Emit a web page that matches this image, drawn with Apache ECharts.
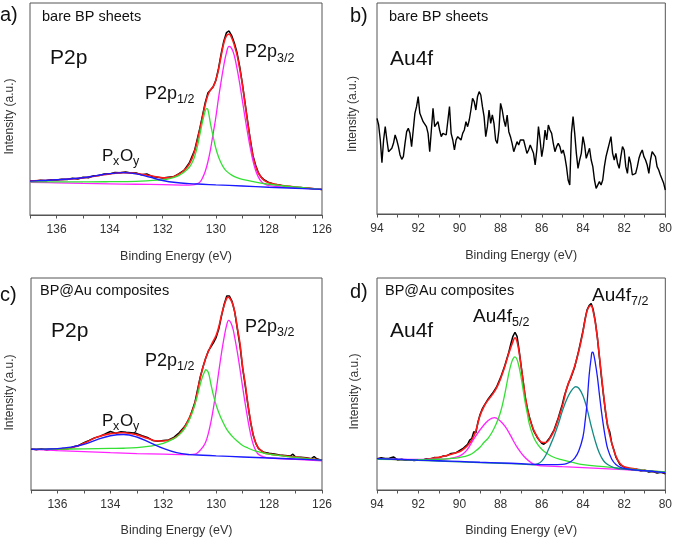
<!DOCTYPE html>
<html><head><meta charset="utf-8">
<script src="https://cdn.jsdelivr.net/npm/echarts@6.0.0/dist/echarts.min.js"></script>
<style>html,body{margin:0;padding:0;background:#fff}#c{width:675px;height:538px}</style>
</head><body><div id="c"></div>
<script>
// ---------- tick labels ----------
const pTickLabels = [136,134,132,130,128,126];
const pTicks = [137,136,135,134,133,132,131,130,129,128,127,126];
const auTickLabels = [94,92,90,88,86,84,82,80];
const auTicks = [94,93,92,91,90,89,88,87,86,85,84,83,82,81,80];

// ---------- panel a : bare BP, P2p ----------
const aBlack = [[137,16.1],[136.8,16.0],[136.6,16.4],[136.4,16.2],[136.2,16.6],[136,16.5],[135.8,16.9],[135.6,16.7],[135.4,17.3],[135.2,17.0],[135,17.8],[134.8,17.6],[134.6,18.5],[134.4,18.6],[134.2,19.3],[134,19.4],[133.8,20.0],[133.6,19.9],[133.4,20.3],[133.2,19.8],[133,19.8],[132.8,19.0],[132.6,19.4],[132.4,18.2],[132.2,17.8],[132,17.4],[131.8,17.8],[131.6,18.0],[131.4,19.4],[131.2,21.0],[131,24.5],[130.8,30.5],[130.6,41],[130.5,47],[130.4,53],[130.3,57.5],[130.2,59],[130.1,60.5],[130,63.5],[129.9,69],[129.8,76],[129.7,82],[129.6,86],[129.5,86.8],[129.4,84.5],[129.3,81],[129.2,76.5],[129.1,70],[129,62],[128.9,53],[128.8,44],[128.7,35.5],[128.6,28],[128.5,23.5],[128.4,20],[128.3,18],[128.2,16.8],[128,15.3],[127.8,14.5],[127.6,14.1],[127.4,13.6],[127.2,13.5],[127,13.1],[126.8,13.0],[126.6,12.7],[126.4,12.5],[126.2,12.3],[126,12.0]];
const aEnvelope = [[137,16.0],[136.5,16.3],[136,16.6],[135.5,17.0],[135,17.5],[134.5,18.4],[134,19.4],[133.5,20.0],[133,19.6],[132.5,18.6],[132,17.6],[131.8,17.5],[131.6,18.0],[131.4,19.2],[131.2,21.0],[131,24],[130.8,30],[130.6,40.5],[130.4,52],[130.3,56.5],[130.2,59],[130.1,60.5],[130,63.5],[129.9,68.5],[129.8,75],[129.7,81],[129.6,84.5],[129.5,85.3],[129.4,83.5],[129.3,80],[129.2,75.5],[129.1,69],[129,61.5],[128.9,52.5],[128.8,43.5],[128.7,35],[128.6,27.5],[128.5,23],[128.4,19.8],[128.2,16.6],[128,15.2],[127.5,13.9],[127,13.2],[126.5,12.6],[126,12.1]];
const aP32 = [[137,15.4],[136,15.2],[135,14.9],[134,14.7],[133,14.5],[132,14.3],[131,14.1],[130.8,14.3],[130.7,14.8],[130.6,15.5],[130.5,17.5],[130.4,20.5],[130.3,25],[130.2,31],[130.1,38.5],[130,46],[129.9,55],[129.8,63],[129.7,70.5],[129.6,76.5],[129.5,79.5],[129.4,78.5],[129.3,75],[129.2,69],[129.1,62],[129,54],[128.9,46],[128.8,38.5],[128.7,31.5],[128.6,25.5],[128.5,21],[128.4,18],[128.3,16],[128.2,14.9],[128,13.9],[127.5,13.3],[127,12.8],[126.5,12.4],[126,12.1]];
const aP12 = [[137,15.6],[136,15.6],[135,15.6],[134,15.7],[133,15.9],[132.5,16.2],[132,16.6],[131.8,17.0],[131.6,17.6],[131.4,18.6],[131.2,20.2],[131,22.5],[130.9,24.5],[130.8,27.5],[130.7,32],[130.6,38],[130.5,44],[130.4,49],[130.35,50.2],[130.3,49.8],[130.2,43],[130.1,37],[130,31.5],[129.9,27.5],[129.8,24.5],[129.7,22.2],[129.6,20.7],[129.4,18.8],[129.2,17.6],[129,16.8],[128.5,15.5],[128,14.5],[127.5,13.8],[127,13.2],[126.5,12.6],[126,12.1]];
const aPxOy = [[137,16.0],[136.5,16.3],[136,16.6],[135.5,17.0],[135,17.6],[134.5,18.6],[134,19.5],[133.5,20.0],[133,19.4],[132.5,17.9],[132,16.3],[131.5,15.3],[131,14.8],[130.5,14.5],[130,14.2],[129,13.7],[128,13.1],[127,12.6],[126,12.1]];

// ---------- panel b : bare BP, Au4f (raw counts) ----------
const bEnergy = [94,93.92,93.84,93.76,93.68,93.6,93.52,93.44,93.36,93.28,
93.2,93.12,93.04,92.96,92.88,92.8,92.72,92.64,92.56,92.48,
92.4,92.32,92.24,92.16,92.08,92,91.92,91.84,91.76,91.68,
91.6,91.52,91.44,91.36,91.28,91.2,91.12,91.04,90.96,90.88,
90.8,90.72,90.64,90.56,90.48,90.4,90.32,90.24,90.16,90.08,
90,89.92,89.84,89.76,89.68,89.6,89.52,89.44,89.36,89.28,
89.2,89.12,89.04,88.96,88.88,88.8,88.72,88.64,88.56,88.48,
88.4,88.32,88.24,88.16,88.08,88,87.92,87.84,87.76,87.68,
87.6,87.52,87.44,87.36,87.28,87.2,87.12,87.04,86.96,86.88,
86.8,86.72,86.64,86.56,86.48,86.4,86.32,86.24,86.16,86.08,
86,85.92,85.84,85.76,85.68,85.6,85.52,85.44,85.36,85.28,
85.2,85.12,85.04,84.96,84.88,84.8,84.72,84.64,84.56,84.48,
84.4,84.32,84.24,84.16,84.08,84,83.92,83.84,83.76,83.68,
83.6,83.52,83.44,83.36,83.28,83.2,83.12,83.04,82.96,82.88,
82.8,82.72,82.64,82.56,82.48,82.4,82.32,82.24,82.16,82.08,
82,81.92,81.84,81.76,81.68,81.6,81.52,81.44,81.36,81.28,
81.2,81.12,81.04,80.96,80.88,80.8,80.72,80.64,80.56,80.48,
80.4,80.32,80.24,80.16,80.08,80];
const bIntensity = [287,267,222,154,222,262,222,187,192,197,
212,237,222,202,177,164,172,212,247,257,
242,202,252,302,322,352,302,297,277,282,
262,242,187,252,317,262,257,277,252,232,
242,247,237,232,322,242,222,192,222,232,
232,222,242,252,277,262,282,312,347,337,
312,352,367,357,322,292,232,262,312,272,
297,272,222,212,252,332,312,282,262,297,
247,232,212,187,202,217,207,222,217,222,
202,182,192,207,202,182,147,192,262,222,
172,202,252,222,267,252,242,212,187,202,
212,202,182,192,172,142,102,87,242,292,
242,182,137,162,182,232,207,167,182,197,
162,142,102,77,82,97,87,102,142,172,
192,212,232,182,162,182,152,137,172,202,
192,142,122,172,152,117,112,122,142,167,
182,192,172,162,147,122,162,187,192,172,
142,132,117,122,92,72];

// ---------- panel c : BP@Au, P2p ----------
const cBlack = [[137,19.4],[136.8,19.0],[136.6,19.5],[136.4,18.9],[136.2,19.3],[136,19.1],[135.8,19.6],[135.6,19.4],[135.4,20.4],[135.2,21.0],[135,22.3],[134.8,23.4],[134.6,24.6],[134.4,25.3],[134.2,26.4],[134,27.6],[133.8,26.8],[133.6,27.5],[133.4,27.2],[133.2,27.0],[133,26.6],[132.8,25.6],[132.6,24.8],[132.4,23.4],[132.2,23.0],[132,23.3],[131.8,23.6],[131.6,24.8],[131.4,27.0],[131.2,29.8],[131,34],[130.8,41.5],[130.6,53.5],[130.5,58],[130.4,62],[130.3,65.5],[130.2,67.5],[130.1,69.5],[130,72],[129.9,76],[129.8,82],[129.7,87.5],[129.6,91.5],[129.55,92],[129.5,91.5],[129.4,89],[129.3,84],[129.2,76],[129.1,68],[129,57.5],[128.9,49],[128.8,40],[128.7,32],[128.6,25.8],[128.5,22],[128.4,19.5],[128.2,17.8],[128,17.3],[127.8,17.0],[127.6,16.5],[127.4,16.3],[127.2,16.0],[127.1,16.9],[127,15.6],[126.8,15.4],[126.6,15.2],[126.4,14.8],[126.3,15.8],[126.2,14.7],[126,13.9]];
const cEnvelope = [[137,19.2],[136.5,19.2],[136,19.3],[135.5,19.8],[135,22.0],[134.5,25.0],[134,26.6],[133.5,27.0],[133,26.0],[132.6,24.4],[132.2,23.1],[131.9,23.2],[131.6,24.4],[131.4,26.3],[131.2,29.5],[131,34.5],[130.8,41],[130.6,53],[130.4,62],[130.2,68],[130,73],[129.9,77],[129.8,82.5],[129.7,87],[129.6,90.5],[129.55,91],[129.4,88.5],[129.3,84],[129.2,76.5],[129.1,69],[129,58],[128.9,50],[128.8,40.5],[128.7,32.5],[128.6,26],[128.5,22],[128.4,19.8],[128.2,17.6],[128,17.0],[127.5,16.2],[127,15.5],[126.5,14.8],[126,14.1]];
const cP32 = [[137,19.2],[136,18.6],[135,18.1],[134,17.6],[133,17.2],[132,16.9],[131,16.7],[130.8,16.9],[130.7,17.6],[130.6,18.8],[130.5,20.3],[130.4,22.5],[130.3,26.5],[130.2,32],[130.1,39],[130,47],[129.9,56],[129.8,64.5],[129.7,72],[129.6,78],[129.53,80],[129.4,77.5],[129.3,72],[129.2,65],[129.1,57],[129,48.5],[128.9,40.5],[128.8,33],[128.7,26.5],[128.6,21.5],[128.5,18.5],[128.4,16.8],[128.2,15.6],[128,15.1],[127,14.4],[126,13.8]];
const cP12 = [[137,19.2],[136,19.3],[135,19.4],[134,19.6],[133.5,19.7],[133,20.0],[132.5,20.7],[132,22.0],[131.6,24.2],[131.4,26.0],[131.2,28.8],[131,33.5],[130.9,36.5],[130.8,40.5],[130.7,45],[130.6,50],[130.5,54],[130.4,56.8],[130.38,57],[130.3,55.5],[130.2,50],[130.1,44.5],[130,40],[129.9,36.5],[129.8,33.5],[129.6,28.6],[129.4,25.4],[129.2,23],[129,21],[128.8,19.8],[128.5,18.3],[128,16.9],[127.5,16.1],[127,15.4],[126.5,14.7],[126,14.1]];
const cPxOy = [[137,19.2],[136.5,19.3],[136,19.5],[135.5,20.2],[135,21.5],[134.5,23.8],[134,25.6],[133.5,26.2],[133,25.0],[132.5,22.3],[132,19.6],[131.5,17.6],[131,16.7],[130.5,16.4],[130,16.1],[129,15.6],[128,15.1],[127,14.6],[126,14.1]];

// ---------- panel d : BP@Au, Au4f ----------
const dBlack = [[94,14.6],[93.8,15.2],[93.6,14.9],[93.4,15.0],[93.2,15.6],[93,14.2],[92.8,14.5],[92.6,14.0],[92.4,14.3],[92.2,13.9],[92,14.2],[91.8,14.1],[91.6,14.7],[91.4,14.6],[91.2,15.3],[91,15.2],[90.8,16.0],[90.6,16.2],[90.4,17.2],[90.2,17.4],[90,18.6],[89.8,19.8],[89.6,21.5],[89.5,23.5],[89.4,24.2],[89.3,27.5],[89.2,27],[89.1,32],[89,35.5],[88.9,38],[88.8,39.8],[88.6,43],[88.4,45.5],[88.2,48.5],[88,53],[87.8,58.5],[87.6,65],[87.5,69],[87.4,72.5],[87.3,74.4],[87.2,72.5],[87.1,66],[87,58.5],[86.9,51],[86.8,43.5],[86.7,38.5],[86.6,34.5],[86.4,28],[86.2,24.5],[86,22],[85.9,21.6],[85.8,22.3],[85.6,24.8],[85.4,28.4],[85.2,34],[85,40.5],[84.9,44.5],[84.8,47.5],[84.7,50.5],[84.6,52.5],[84.4,58],[84.2,66],[84,75],[83.9,80.5],[83.8,85],[83.7,87],[83.6,88],[83.55,87.9],[83.5,85],[83.4,79.5],[83.3,72],[83.2,62.5],[83.1,53],[83,44.5],[82.9,36.5],[82.8,30],[82.7,27.5],[82.6,22],[82.5,19],[82.4,15.5],[82.2,12],[82,10.8],[81.8,10.2],[81.6,9.5],[81.4,9.8],[81.2,9.0],[81,9.3],[80.8,8.5],[80.6,8.7],[80.4,8.0],[80.2,8.4],[80,7.6]];
const dEnvelope = [[94,14.8],[93,14.4],[92,14.1],[91.5,14.6],[91,15.4],[90.5,16.6],[90,18.0],[89.8,19.3],[89.6,21],[89.4,23.5],[89.2,28],[89,35],[88.8,39.5],[88.6,42.5],[88.4,45],[88.2,48],[88,52.5],[87.8,58],[87.6,64.5],[87.4,70],[87.3,71.8],[87.2,70],[87.1,65],[87,58],[86.9,51],[86.8,44],[86.6,34],[86.4,28.5],[86.2,24.8],[86,22.5],[85.8,22.4],[85.6,24.5],[85.4,28],[85.2,33.5],[85,39.5],[84.8,47.5],[84.6,53],[84.4,58.5],[84.2,65.5],[84,74.5],[83.9,80],[83.8,84.5],[83.7,86.5],[83.6,87],[83.5,84],[83.4,79],[83.3,72],[83.2,63],[83.1,54],[83,45],[82.9,37],[82.8,30.5],[82.6,22],[82.4,16],[82.2,12.5],[82,11],[81.5,10],[81,9.2],[80.5,8.7],[80,8.2]];
const dF52a = [[94,14.4],[92,14.4],[91,14.5],[90.5,14.8],[90.2,15.4],[90,16.0],[89.8,17.2],[89.6,19.3],[89.4,22.5],[89.2,25.5],[89,28.3],[88.8,30.8],[88.6,32.8],[88.4,33.9],[88.3,34.1],[88.2,33.9],[88,32.4],[87.8,30.2],[87.6,27.2],[87.4,23.6],[87.2,20.2],[87,17.5],[86.8,15.2],[86.6,13.5],[86.4,12.2],[86.2,11.6],[86,11.4],[85,11.0],[84,10.6],[83,10.1],[82,9.6],[81,9.0],[80,8.5]];
const dF52b = [[94,14.4],[92,14.3],[91,14.5],[90.5,14.8],[90,15.3],[89.5,16.6],[89.2,18.5],[89,20.2],[88.8,22.5],[88.6,24.5],[88.4,27.5],[88.2,31.5],[88,36.8],[87.8,45],[87.7,50],[87.6,55],[87.5,59],[87.4,61.8],[87.3,62.8],[87.2,61.5],[87.1,58],[87,53],[86.9,47],[86.8,41],[86.7,36],[86.6,31],[86.4,25],[86.2,21.5],[86,19.2],[85.8,17.6],[85.5,15.8],[85,14.2],[84.5,13],[84,12],[83,11],[82,10.1],[81,9.3],[80,8.5]];
const dF72a = [[94,14.8],[92,14.0],[90,13.3],[88,12.6],[87,12.2],[86.4,11.9],[86.2,12.3],[86,13.6],[85.8,16.5],[85.6,20.8],[85.4,25.5],[85.2,31],[85,37.2],[84.8,42.5],[84.6,46.3],[84.4,48.6],[84.35,48.7],[84.2,48],[84,44.5],[83.8,38.3],[83.6,30.2],[83.4,23],[83.2,17.3],[83,13.8],[82.8,12],[82.5,10.6],[82,9.8],[81,9],[80,8.2]];
const dF72b = [[94,14.8],[93,14.5],[92,14.1],[91,13.8],[90,13.5],[89,13.1],[88,12.8],[87,12.4],[86,12.0],[85.5,12.0],[85,12.1],[84.8,12.4],[84.6,13.3],[84.4,15.0],[84.2,18.5],[84,25],[83.9,32],[83.8,41],[83.7,54],[83.6,62.5],[83.55,65],[83.5,64.8],[83.4,60],[83.3,53.5],[83.2,45],[83.1,37],[83,30],[82.9,24],[82.8,19.5],[82.6,14.5],[82.4,12],[82.2,10.8],[82,10.2],[81.5,9.5],[81,9.1],[80.5,8.7],[80,8.2]];

// ---------- build chart ----------
const FONT = '"Liberation Sans", Arial, sans-serif';
const grids = [
  {left:30, top:3, width:292, height:212},
  {left:377, top:3, width:291, height:211},
  {left:31, top:278, width:291, height:213},
  {left:377, top:278, width:291, height:213}
];
function xAx(i, isP, gap){
  return {
    gridIndex:i, type:'value', inverse:true,
    min: isP?126:80, max: isP?137:94, interval:1,
    axisLine:{show:true, onZero:false, lineStyle:{color:'#555', width:1}},
    axisTick:{show:true, length:3.5, customValues: isP?pTicks:auTicks, lineStyle:{color:'#555'}},
    axisLabel:{show:true, fontSize:12, color:'#333', margin:9, fontFamily:FONT,
      customValues: isP?pTickLabels:auTickLabels,
      formatter: v => (Math.round(v)%2===0 ? String(v) : '')},
    splitLine:{show:false},
    name:'Binding Energy (eV)', nameLocation:'middle', nameGap:gap,
    nameTextStyle:{fontSize:12.5, color:'#333', fontFamily:FONT}
  };
}
function yAx(i, max){
  return {gridIndex:i, type:'value', min:0, max:max, show:false};
}
function ln(i, data, color, w, smooth){
  return {type:'line', xAxisIndex:i, yAxisIndex:i, data:data, symbol:'none', showSymbol:false,
    smooth: smooth, lineStyle:{color:color, width:w}, itemStyle:{color:color}, silent:true, animation:false};
}
const BLK='#000000', RED='#ff1a1a', GRN='#33e033', MAG='#ff22ff', BLU='#1a1aff', TEAL='#138a84';
const bData = bEnergy.map((e,k)=>[e, bIntensity[k]]);

const series = [
  ln(0,aBlack,BLK,1.5,false), ln(0,aEnvelope,RED,1.6,0.4), ln(0,aP32,MAG,1.3,0.4), ln(0,aP12,GRN,1.3,0.4), ln(0,aPxOy,BLU,1.4,0.4),
  ln(1,bData,BLK,1.4,false),
  ln(2,cBlack,BLK,1.5,false), ln(2,cEnvelope,RED,1.6,0.4), ln(2,cP32,MAG,1.3,0.4), ln(2,cP12,GRN,1.3,0.4), ln(2,cPxOy,BLU,1.4,0.4),
  ln(3,dBlack,BLK,1.5,false), ln(3,dEnvelope,RED,1.6,0.4), ln(3,dF52a,MAG,1.3,0.4), ln(3,dF52b,GRN,1.3,0.4), ln(3,dF72a,TEAL,1.3,0.4), ln(3,dF72b,BLU,1.3,0.4)
];

function T(x, y, text, fs, color){
  return {type:'text', x:x, y:y, silent:true, z:100,
    style:{text:text, fontSize:fs, fontFamily:FONT, fill:color||'#111',
      align:'left', verticalAlign:'middle', textAlign:'left', textVerticalAlign:'middle'}};
}
function YN(x, y){
  return {type:'text', x:x, y:y, rotation:Math.PI/2, silent:true, z:100,
    style:{text:'Intensity (a.u.)', fontSize:12, fontFamily:FONT, fill:'#333',
      align:'center', verticalAlign:'middle', textAlign:'center', textVerticalAlign:'middle'}};
}
const graphics = [
  // panel a
  T(0,15,'a)',20), T(42,17,'bare BP sheets',14.5), T(50,58,'P2p',21),
  T(145,94,'P2p',18), T(177,100,'1/2',12.5),
  T(245,52.5,'P2p',18), T(277,58.5,'3/2',12.5),
  T(102,156,'P',17), T(113,161.5,'x',12.5), T(120,156,'O',17), T(133,161.5,'y',12.5),
  YN(10,116.5),
  // panel b
  T(350,16.5,'b)',20), T(389,17,'bare BP sheets',14.5), T(390,59,'Au4f',21),
  YN(353,114),
  // panel c
  T(0,295,'c)',20), T(40,291,'BP@Au composites',14.5), T(51,331.5,'P2p',21),
  T(145,361,'P2p',18), T(177,366.5,'1/2',12.5),
  T(245,327.5,'P2p',18), T(277,333,'3/2',12.5),
  T(102,421,'P',17), T(113,426.5,'x',12.5), T(120,421,'O',17), T(133,426.5,'y',12.5),
  YN(10,392.5),
  // panel d
  T(350,292,'d)',20), T(385,291,'BP@Au composites',14.5), T(390,331.5,'Au4f',21),
  T(473,317,'Au4f',19), T(512,323,'5/2',12.5),
  T(592,295.5,'Au4f',19), T(631,301.5,'7/2',12.5),
  YN(355,391.5)
];

const chart = echarts.init(document.getElementById('c'), null, {renderer:'canvas'});
chart.setOption({
  animation:false,
  textStyle:{fontFamily:FONT},
  grid: grids.map(g => Object.assign({show:true, borderColor:'#555', borderWidth:1, backgroundColor:'transparent', containLabel:false}, g)),
  xAxis:[xAx(0,true,35), xAx(1,false,35), xAx(2,true,34), xAx(3,false,34)],
  yAxis:[yAx(0,100), yAx(1,633), yAx(2,100), yAx(3,100)],
  series: series,
  graphic: graphics
});
</script>
</body></html>
